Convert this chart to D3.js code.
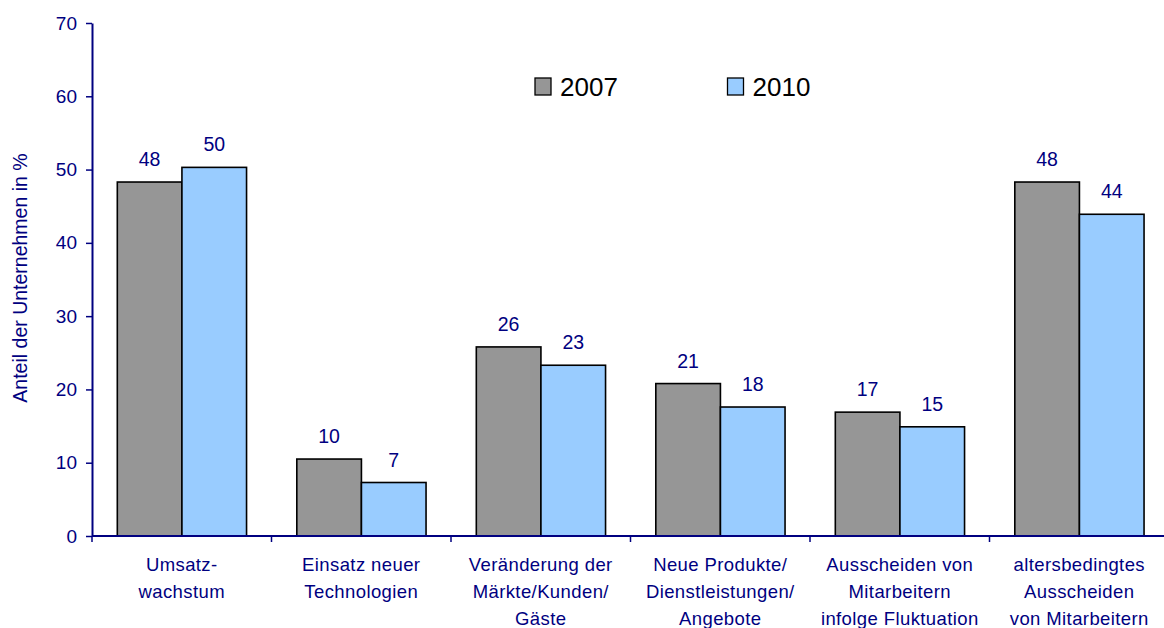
<!DOCTYPE html>
<html><head><meta charset="utf-8">
<script src="https://cdn.jsdelivr.net/npm/d3@7"></script>
<style>body{margin:0;background:#fff}svg{display:block;font-family:Arial,"Liberation Sans",sans-serif}</style>
</head><body><svg id="c" width="1164" height="628"></svg>
<script>
const categories = [
  ["Umsatz-","wachstum"],
  ["Einsatz neuer","Technologien"],
  ["Veränderung der","Märkte/Kunden/","Gäste"],
  ["Neue Produkte/","Dienstleistungen/","Angebote"],
  ["Ausscheiden von","Mitarbeitern","infolge Fluktuation"],
  ["altersbedingtes","Ausscheiden","von Mitarbeitern"]
];
const seriesNames = ["2007","2010"];
const values2007 = [48.3, 10.5, 25.8, 20.8, 16.9, 48.3];
const values2010 = [50.3, 7.3, 23.3, 17.6, 14.9, 43.9];
const labels2007 = ["48","10","26","21","17","48"];
const labels2010 = ["50","7","23","18","15","44"];
const yTicks = [0,10,20,30,40,50,60,70];
const colors = ["#969696","#99ccff"];
const navy = "#000080";

const svg = d3.select("#c");
const x0 = 92, x1 = 92 + 6*179.5, yBot = 536, yTop = 23;
const x = d3.scaleBand().domain(d3.range(categories.length)).range([x0, x1]).paddingInner(0).paddingOuter(0);
const xs = d3.scaleBand().domain([0,1]).range([x.bandwidth()*0.141, x.bandwidth()*0.861]).padding(0);
const y = d3.scaleLinear().domain([0,70]).range([yBot, yTop]);

const data = categories.map((c,i)=>({i, vals:[values2007[i], values2010[i]], labs:[labels2007[i], labels2010[i]]}));

const g = svg.selectAll("g.grp").data(data).join("g").attr("transform", d=>`translate(${x(d.i)},0)`);
g.selectAll("rect").data(d=>d.vals.map((v,k)=>({v,k}))).join("rect")
  .attr("x", d=>xs(d.k)).attr("width", xs.bandwidth())
  .attr("y", d=>y(d.v)).attr("height", d=>y(0)-y(d.v))
  .attr("fill", d=>colors[d.k]).attr("stroke","#000").attr("stroke-width",1.6);
g.selectAll("text.val").data(d=>d.labs.map((l,k)=>({l,k,v:d.vals[k]}))).join("text").attr("class","val")
  .attr("x", d=>xs(d.k)+xs.bandwidth()/2).attr("y", d=>y(d.v)-16)
  .attr("text-anchor","middle").attr("fill",navy).attr("font-size","19.5px").text(d=>d.l);

// Y axis
const yAxis = d3.axisLeft(y).tickValues(yTicks).tickSize(6).tickPadding(9).tickSizeOuter(0);
const ya = svg.append("g").attr("transform",`translate(${x0},0)`).call(yAxis);
ya.select(".domain").attr("stroke",navy).attr("stroke-width",2);
ya.selectAll(".tick line").attr("stroke",navy).attr("stroke-width",1.5);
ya.selectAll(".tick text").attr("fill",navy).attr("font-size","19px").attr("font-family","Arial,'Liberation Sans',sans-serif");

// X axis
const tickPos = d3.range(categories.length+1).map(i=>x0 + i*x.bandwidth());
svg.append("line").attr("x1",x0).attr("x2",x1).attr("y1",yBot).attr("y2",yBot).attr("stroke",navy).attr("stroke-width",2);
svg.selectAll("line.xt").data(tickPos).join("line").attr("class","xt")
  .attr("x1",d=>d).attr("x2",d=>d).attr("y1",yBot).attr("y2",yBot+6).attr("stroke",navy).attr("stroke-width",1.5);
const cl = svg.selectAll("text.cat").data(data).join("text").attr("class","cat")
  .attr("text-anchor","middle").attr("fill",navy).attr("font-size","18.5px").attr("letter-spacing","0.4px")
  .attr("transform", d=>`translate(${x(d.i)+x.bandwidth()/2},0)`);
cl.selectAll("tspan").data(d=>categories[d.i]).join("tspan")
  .attr("x",0).attr("y",(d,j)=>571+j*26.8).text(d=>d);

// Y title
svg.append("text").attr("transform","translate(26.5,278) rotate(-90)").attr("text-anchor","middle")
  .attr("fill",navy).attr("font-size","19.5px").text("Anteil der Unternehmen in %");

// Legend
const legX = [535, 727.5];
const lg = svg.selectAll("g.leg").data(seriesNames).join("g").attr("class","leg")
  .attr("transform",(d,i)=>`translate(${legX[i]},78)`);
lg.append("rect").attr("width",16).attr("height",17).attr("fill",(d,i)=>colors[i]).attr("stroke","#000").attr("stroke-width",1.3);
lg.append("text").attr("x",25).attr("y",18).attr("font-size","26px").attr("fill","#000").text(d=>d);
</script></body></html>
